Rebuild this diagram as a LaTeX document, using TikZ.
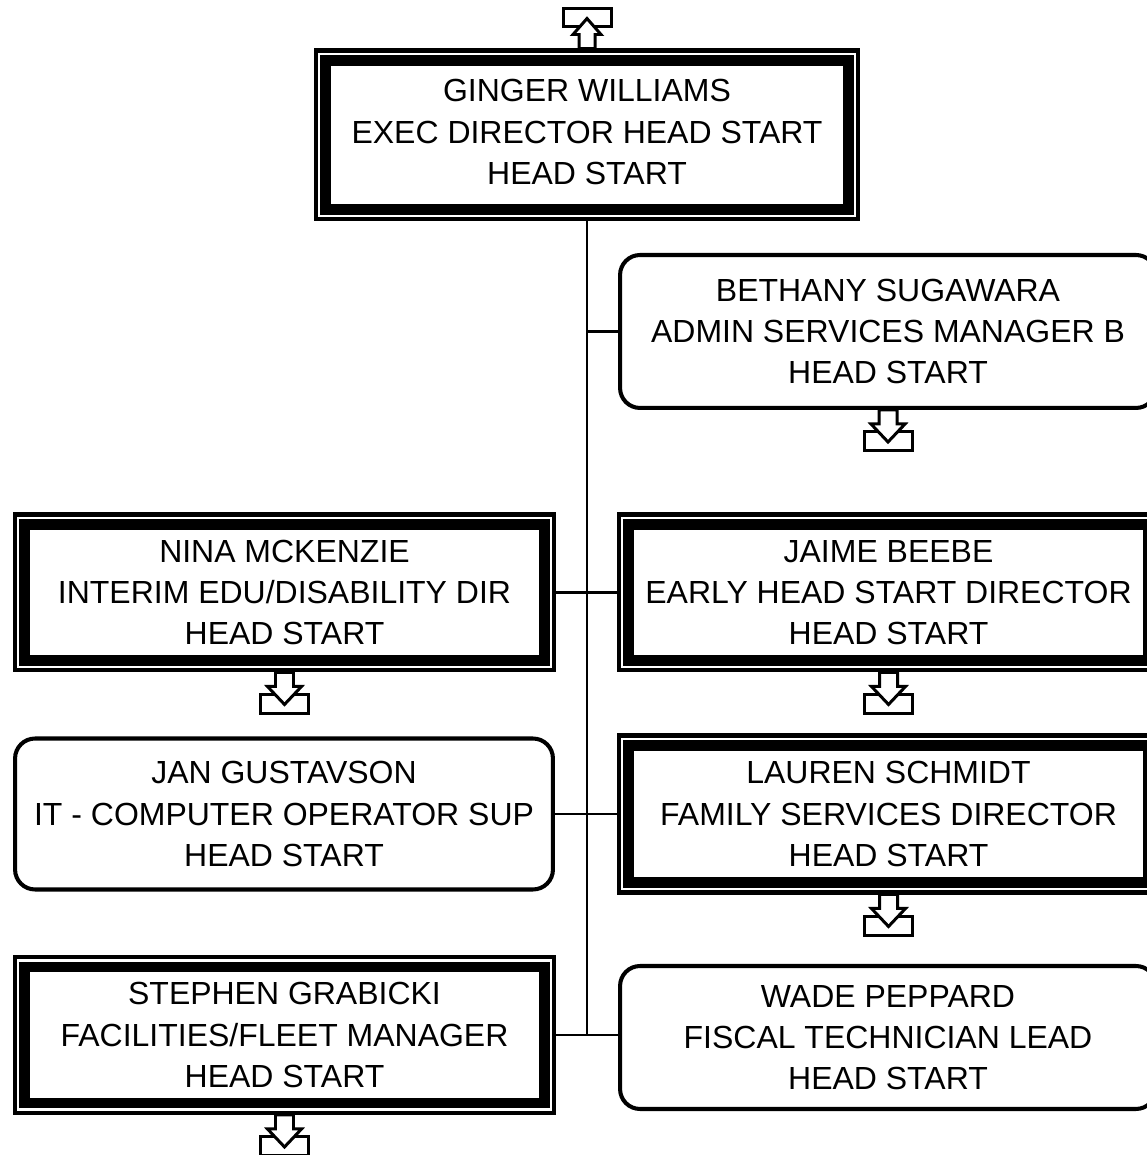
\documentclass[tikz,border=0pt]{standalone}
\usepackage{fontspec}
\setmainfont{Liberation Sans}
\usetikzlibrary{calc}

\begin{document}
\begin{tikzpicture}[x=0.02cm,y=0.02cm,font=\fontsize{18.2}{23.5}\selectfont,
    dblbox/.style={draw,line width=5.9pt,outer sep=0.24cm,align=center,
      minimum width=10.4cm,minimum height=2.72cm},
    rndbox/.style={draw,line width=2.3pt,rounded corners=0.4cm,align=center,
      minimum width=10.72cm},
    link/.style={line width=1.2pt},
    icon/.style={line width=1.7pt,fill=white},
    downicon/.pic={
      \draw[icon] (-24,-22) rectangle (24,-41);
      \draw[icon] (-9,0) -- (-9,-14) -- (-17,-14) -- (0,-32) -- (17,-14) -- (9,-14) -- (9,0) -- cycle;
    },
    upicon/.pic={
      \draw[icon] (-24,22) rectangle (24,40);
      \draw[icon] (-8,0) -- (-8,14) -- (-14,14) -- (0,30) -- (14,14) -- (8,14) -- (8,0) -- cycle;
    }]
  \useasboundingbox (0,0) rectangle (1146,1155);

  % director
  \node[dblbox,minimum width=10.46cm,minimum height=2.98cm,text depth=3.5pt] (top) at (587,1020)
    {GINGER WILLIAMS\\EXEC DIRECTOR HEAD START\\HEAD START};

  % direct reports
  \node[rndbox,minimum height=3.06cm] (beth) at (888,823.5)
    {BETHANY SUGAWARA\\ADMIN SERVICES MANAGER B\\HEAD START};
  \node[dblbox] (nina) at (284.5,562.5)
    {NINA MCKENZIE\\INTERIM EDU/DISABILITY DIR\\HEAD START};
  \node[dblbox] (jaime) at (888.5,562.5)
    {JAIME BEEBE\\EARLY HEAD START DIRECTOR\\HEAD START};
  \node[rndbox,minimum width=10.76cm,minimum height=3.02cm] (jan) at (284,341)
    {JAN GUSTAVSON\\IT - COMPUTER OPERATOR SUP\\HEAD START};
  \node[dblbox,minimum height=2.74cm] (lauren) at (888.5,341)
    {LAUREN SCHMIDT\\FAMILY SERVICES DIRECTOR\\HEAD START};
  \node[dblbox] (stephen) at (284.5,120)
    {STEPHEN GRABICKI\\FACILITIES/FLEET MANAGER\\HEAD START};
  \node[rndbox,minimum height=2.86cm] (wade) at (888,117.5)
    {WADE PEPPARD\\FISCAL TECHNICIAN LEAD\\HEAD START};

  % outer frames
  \foreach \n in {top,nina,jaime,lauren,stephen}
    \draw[line width=2.3pt] ([shift={(2,-2)}]\n.north west) rectangle ([shift={(-2,2)}]\n.south east);

  % connectors
  \draw[link] (top.south) -- (top.south |- stephen.east);
  \draw[link] (top.south |- beth.west) -- (beth.west);
  \draw[link] (nina.east) -- (nina.east -| jaime.west);
  \draw[link] (jan.east) -- (jan.east -| lauren.west);
  \draw[link] (stephen.east) -- (stephen.east -| wade.west);

  % more icons
  \pic at (top.north) {upicon};
  \foreach \n in {beth,nina,jaime,lauren,stephen}
    \pic at (\n.south) {downicon};
\end{tikzpicture}
\end{document}
